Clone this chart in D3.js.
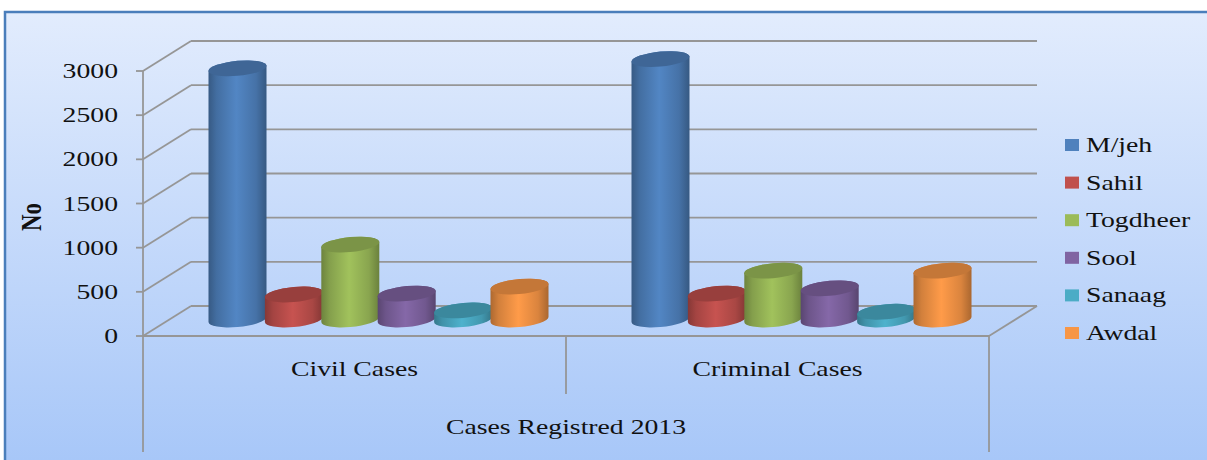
<!DOCTYPE html>
<html>
<head>
<meta charset="utf-8">
<script src="https://cdn.jsdelivr.net/npm/d3@7"></script>
<style>
  html, body { margin: 0; padding: 0; background: #ffffff; }
  svg { display: block; }
</style>
</head>
<body>
<svg id="chart" width="1207" height="460"></svg>
<script>
// Cases registered in 2013, by region
const categories = ["Civil Cases", "Criminal Cases"];
const regions = ["M/jeh", "Sahil", "Togdheer", "Sool", "Sanaag", "Awdal"];
const civilCases = [2860, 300, 865, 310, 120, 390];
const criminalCases = [2965, 310, 570, 370, 105, 570];
const yTicks = [0, 500, 1000, 1500, 2000, 2500, 3000];
const regionColors = ["#4F81BD", "#C0504D", "#9BBB59", "#8064A2", "#4BACC6", "#F79646"];
const axisTitle = "No";
const groupTitle = "Cases Registred 2013";

const seriesByCategory = [civilCases, criminalCases];

const svg = d3.select("#chart");
const defs = svg.append("defs");

// --- background panel ---
const bg = defs.append("linearGradient").attr("id", "panelBg")
  .attr("x1", 0).attr("y1", 0).attr("x2", 0).attr("y2", 1);
bg.append("stop").attr("offset", "0%").attr("stop-color", "#e2ecfd");
bg.append("stop").attr("offset", "100%").attr("stop-color", "#a6c6f8");

svg.append("rect")
  .attr("x", 5).attr("y", 12).attr("width", 1215).attr("height", 460)
  .attr("fill", "url(#panelBg)")
  .attr("stroke", "#4a7ebb").attr("stroke-width", 2.5);

// --- scales ---
const y = d3.scaleLinear().domain([0, 3000]).range([336, 71]);
const x = d3.scaleBand().domain(categories).range([143, 989]).padding(0);
const seriesPos = d3.scalePoint().domain(regions).range([-141, 141]);
const color = d3.scaleOrdinal().domain(regions).range(regionColors);

// oblique depth of the 3-D box
const depthX = 48, depthY = -30;
const barDepth = 0.5;
const gridColor = "#969696";

const grid = svg.append("g").attr("fill", "none").attr("stroke", gridColor).attr("stroke-width", 1.8);

// side wall + back wall gridlines
yTicks.forEach(t => {
  const yf = y(t);
  grid.append("line")
    .attr("x1", x.range()[0]).attr("y1", yf)
    .attr("x2", x.range()[0] + depthX).attr("y2", yf + depthY);
  grid.append("line")
    .attr("x1", x.range()[0] + depthX).attr("y1", yf + depthY)
    .attr("x2", x.range()[1] + depthX).attr("y2", yf + depthY);
  // tick mark on the front axis
  grid.append("line")
    .attr("x1", x.range()[0] - 7).attr("y1", yf)
    .attr("x2", x.range()[0]).attr("y2", yf);
});

// floor front edge and right edge
grid.append("line")
  .attr("x1", x.range()[0]).attr("y1", y(0))
  .attr("x2", x.range()[1]).attr("y2", y(0));
grid.append("line")
  .attr("x1", x.range()[1]).attr("y1", y(0))
  .attr("x2", x.range()[1] + depthX).attr("y2", y(0) + depthY);

// vertical value axis, continuing down as the category frame
grid.append("line")
  .attr("x1", x.range()[0]).attr("y1", y(3000))
  .attr("x2", x.range()[0]).attr("y2", 452);
grid.append("line")
  .attr("x1", x.range()[1]).attr("y1", y(0))
  .attr("x2", x.range()[1]).attr("y2", 452);
// divider between the two inner categories
grid.append("line")
  .attr("x1", x(categories[1])).attr("y1", y(0))
  .attr("x2", x(categories[1])).attr("y2", 394);

// --- cylinder shading gradients ---
regions.forEach((r, i) => {
  const c = d3.color(color(r));
  const g = defs.append("linearGradient").attr("id", "cyl" + i)
    .attr("x1", 0).attr("y1", 0).attr("x2", 1).attr("y2", 0);
  g.append("stop").attr("offset", "0%").attr("stop-color", c.darker(1.0));
  g.append("stop").attr("offset", "14%").attr("stop-color", c.darker(0.45));
  g.append("stop").attr("offset", "48%").attr("stop-color", c.brighter(0.1));
  g.append("stop").attr("offset", "82%").attr("stop-color", c.darker(0.35));
  g.append("stop").attr("offset", "100%").attr("stop-color", c.darker(1.05));
});

// --- cylinders ---
const rx = 29, ry = 7.5, tilt = -5;
const bars = svg.append("g");
categories.forEach((cat, ci) => {
  regions.forEach((r, ri) => {
    const v = seriesByCategory[ci][ri];
    const cx = x(cat) + x.bandwidth() / 2 + seriesPos(r) + depthX * barDepth;
    const y0 = y(0) + depthY * barDepth - 1.5;
    const yt = y(v) + depthY * barDepth;
    const g = bars.append("g")
      .attr("transform", `translate(${cx},0) skewY(${tilt}) translate(${-cx},0)`);
    g.append("path")
      .attr("d", `M${cx - rx},${yt} L${cx - rx},${y0} A${rx},${ry} 0 0 0 ${cx + rx},${y0} L${cx + rx},${yt} A${rx},${ry} 0 0 0 ${cx - rx},${yt} Z`)
      .attr("fill", `url(#cyl${ri})`);
    g.append("ellipse")
      .attr("cx", cx).attr("cy", yt).attr("rx", rx).attr("ry", ry)
      .attr("fill", d3.color(color(r)).darker(0.65));
  });
});

// --- text ---
const font = "'Liberation Serif', 'Times New Roman', serif";
const sx = 1.32;
const txt = svg.append("g").attr("font-family", font).attr("fill", "#111");

// value axis labels
yTicks.forEach(t => {
  txt.append("text")
    .attr("transform", `translate(118,${y(t) + 7}) scale(${sx},1)`)
    .attr("text-anchor", "end").attr("font-size", 21)
    .text(d3.format("d")(t));
});

// value axis title
txt.append("text")
  .attr("transform", `translate(41,217) scale(${sx},1) rotate(-90)`)
  .attr("text-anchor", "middle").attr("font-size", 23).attr("font-weight", "bold")
  .text(axisTitle);

// category labels
categories.forEach(cat => {
  txt.append("text")
    .attr("transform", `translate(${x(cat) + x.bandwidth() / 2},376) scale(${sx},1)`)
    .attr("text-anchor", "middle").attr("font-size", 21)
    .text(cat);
});
txt.append("text")
  .attr("transform", `translate(${(x.range()[0] + x.range()[1]) / 2},434) scale(${sx},1)`)
  .attr("text-anchor", "middle").attr("font-size", 21)
  .text(groupTitle);

// legend
regions.forEach((r, i) => {
  const ly = 145 + i * 37.6;
  txt.append("rect")
    .attr("x", 1065).attr("y", ly - 6).attr("width", 14).attr("height", 12)
    .attr("fill", color(r));
  txt.append("text")
    .attr("transform", `translate(1086,${ly + 7}) scale(${sx},1)`)
    .attr("font-size", 21)
    .text(r);
});
</script>
</body>
</html>
